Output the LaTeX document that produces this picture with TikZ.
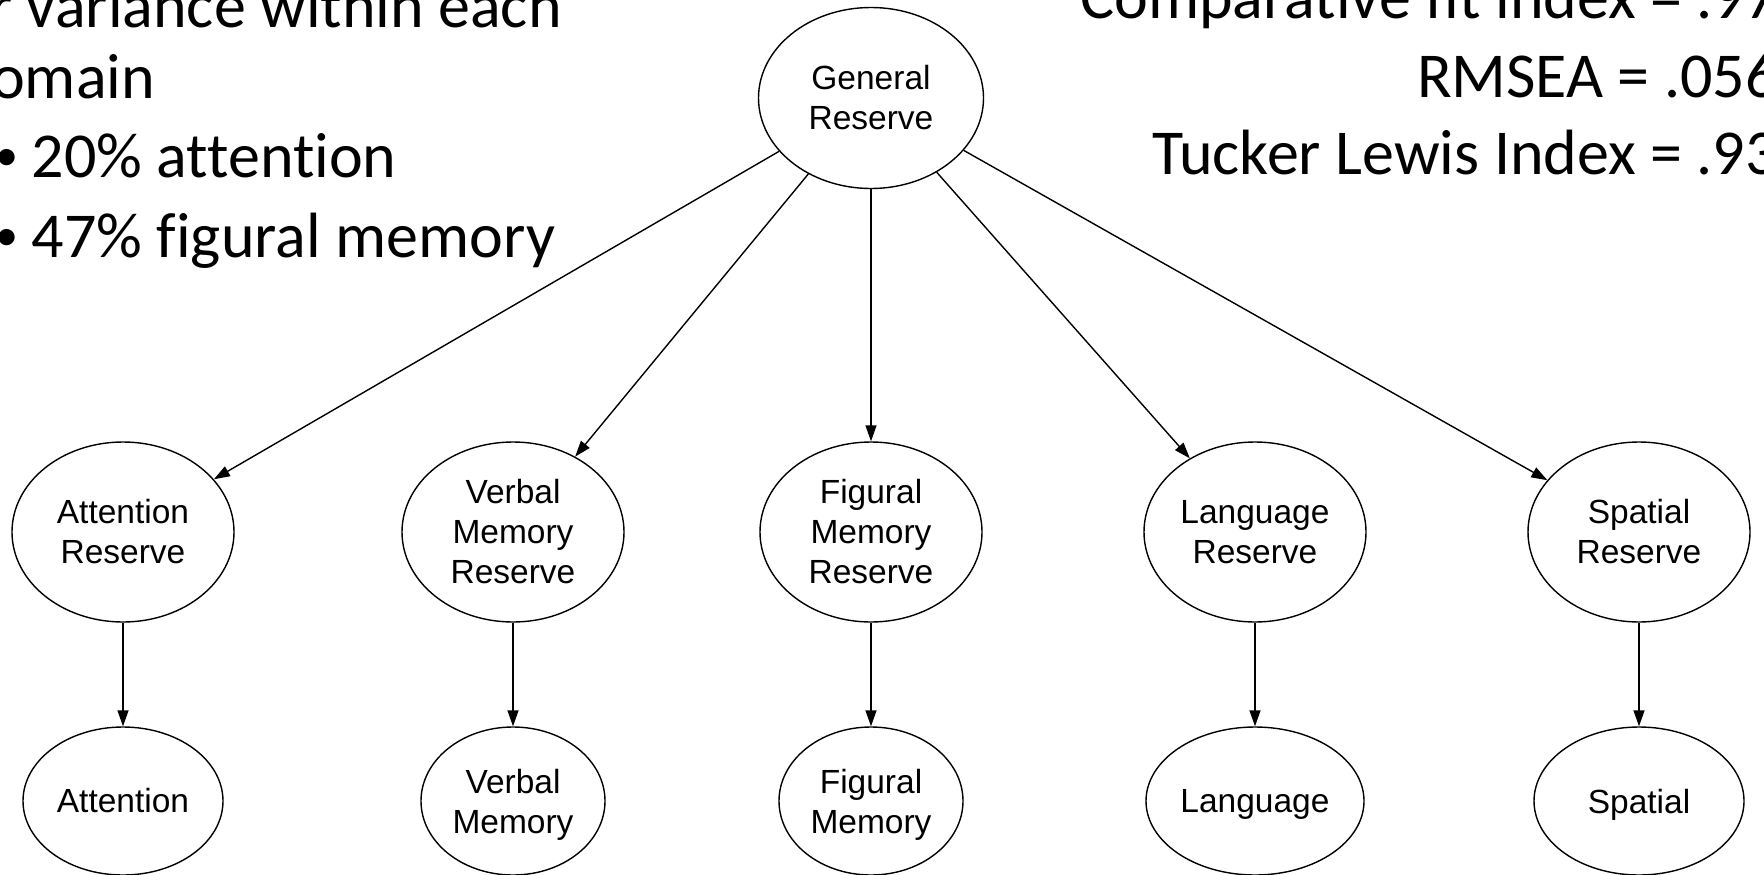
\documentclass[tikz,border=0pt]{standalone}
\usepackage{fontspec}
\usetikzlibrary{shapes.geometric,arrows.meta}
\newfontfamily\nodefont{Liberation Sans}
\newfontfamily\slidefont[Ligatures={NoCommon},RawFeature={-liga;-clig;-dlig}]{Carlito}
\begin{document}
\begin{tikzpicture}[x=1pt,y=-1pt,
  latent/.style={ellipse,draw,line width=1.4pt,inner sep=0pt,align=center,
    font=\nodefont\fontsize{33.5}{40}\selectfont},
  midnode/.style={latent,minimum width=222pt,minimum height=180pt},
  botnode/.style={latent,minimum height=148pt},
  conn/.style={line width=1.4pt,-{Triangle[length=16pt,width=11pt]}},
  slide/.style={inner sep=0pt,font=\slidefont\fontsize{64}{78}\selectfont},
  bul/.style={}]
\newcommand\slidebullet{\makebox[35.5pt][l]{\nodefont\fontsize{60}{60}\selectfont •}}
\useasboundingbox (0,0) rectangle (1764,875);
% top node
\node[latent,minimum width=225pt,minimum height=181pt] (gen) at (871,98) {General\\Reserve};
% middle row
\node[midnode] (attR) at (123,532) {Attention\\Reserve};
\node[midnode] (verR) at (513,532) {Verbal\\Memory\\Reserve};
\node[midnode] (figR) at (871,532) {Figural\\Memory\\Reserve};
\node[midnode] (lanR) at (1255,532) {Language\\Reserve};
\node[midnode] (spaR) at (1639,532) {Spatial\\Reserve};
% bottom row
\node[botnode,minimum width=200pt] (att) at (123,801) {Attention};
\node[botnode,minimum width=184pt] (ver) at (513,801) {Verbal\\\smash{Memory}};
\node[botnode,minimum width=184pt] (fig) at (871,801) {Figural\\\smash{Memory}};
\node[botnode,minimum width=218pt,text depth=0pt] (lan) at (1255,801) {Language};
\node[botnode,minimum width=210pt,text depth=0pt] (spa) at (1639,801) {Spatial};
% connectors
\foreach \t in {attR,verR,figR,lanR,spaR} \draw[conn] (gen) -- (\t);
\draw[conn] (attR) -- (att);
\draw[conn] (verR) -- (ver);
\draw[conn] (figR) -- (fig);
\draw[conn] (lanR) -- (lan);
\draw[conn] (spaR) -- (spa);
% slide text, left
\node[slide,anchor=base west] (t1) at (-10,28) {r variance within each};
\node[slide,anchor=base west] (t2) at (-9,98) {omain};
\node[slide,anchor=base west] (t3) at (-4,177) {\slidebullet 20\% attention};
\node[slide,anchor=base west] (t4) at (-4,257) {\slidebullet 47\% figural memory};
% slide text, right
\node[slide,anchor=base east] (r1) at (1778,19) {Comparative fit index = .97};
\node[slide,anchor=base east] (r2) at (1778,97) {RMSEA = .056};
\node[slide,anchor=base east] (r3) at (1778,174) {Tucker Lewis Index = .93};
\end{tikzpicture}
\end{document}
